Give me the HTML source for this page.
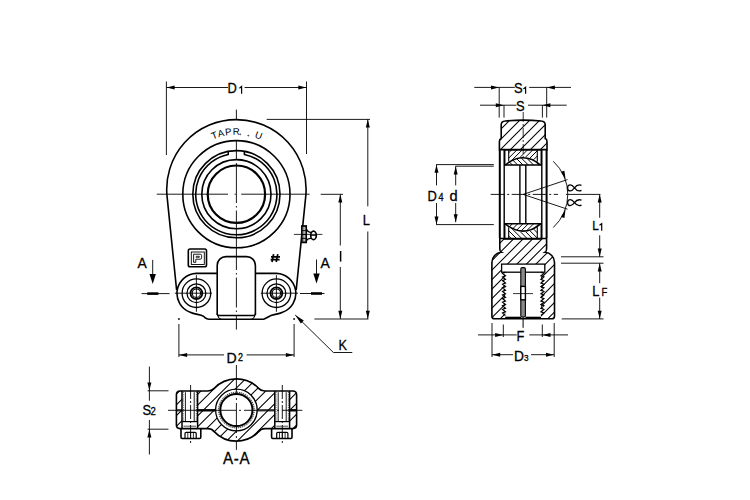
<!DOCTYPE html>
<html><head><meta charset="utf-8"><style>
html,body{margin:0;padding:0;background:#fff;width:750px;height:500px;overflow:hidden}
svg{display:block}
text{font-family:"Liberation Sans",sans-serif;fill:#000;stroke:#000;stroke-width:0.3}
</style></head><body>
<svg width="750" height="500" viewBox="0 0 750 500" stroke="#000" stroke-linecap="butt">
<rect x="0" y="0" width="750" height="500" fill="#fff" stroke="none"/>
<line x1="166.4" y1="81.5" x2="166.4" y2="155" stroke-width="0.9" />
<line x1="306.5" y1="81.5" x2="306.5" y2="154" stroke-width="0.9" />
<line x1="166.4" y1="87.5" x2="228" y2="87.5" stroke-width="0.9" />
<line x1="244.6" y1="87.5" x2="306.5" y2="87.5" stroke-width="0.9" />
<path d="M166.6,87.5 L174.6,85.5 L174.6,89.5 Z" fill="#000" stroke="none"/>
<path d="M306.3,87.5 L298.3,89.5 L298.3,85.5 Z" fill="#000" stroke="none"/>
<text transform="translate(227.5,92.9) scale(0.86,1)" font-size="15" text-anchor="start" >D</text>
<path d="M239.4,88.2 L241.6,86.5 V93.7" stroke-width="1.2" fill="none" />
<line x1="266.7" y1="119.4" x2="370" y2="119.4" stroke-width="0.9" />
<line x1="367.8" y1="119.4" x2="367.8" y2="206.3" stroke-width="0.9" />
<line x1="367.8" y1="231.5" x2="367.8" y2="319" stroke-width="0.9" />
<path d="M367.8,119.6 L369.8,127.6 L365.8,127.6 Z" fill="#000" stroke="none"/>
<path d="M367.8,318.8 L365.8,310.8 L369.8,310.8 Z" fill="#000" stroke="none"/>
<text transform="translate(362.8,224.9) scale(0.86,1)" font-size="15" text-anchor="start" >L</text>
<line x1="320.7" y1="194.3" x2="343" y2="194.3" stroke-width="0.9" />
<line x1="340.3" y1="194.3" x2="340.3" y2="245.5" stroke-width="0.9" />
<line x1="340.3" y1="267" x2="340.3" y2="319" stroke-width="0.9" />
<line x1="340.6" y1="251" x2="340.6" y2="261.6" stroke-width="1.5" />
<path d="M340.3,194.5 L342.3,202.5 L338.3,202.5 Z" fill="#000" stroke="none"/>
<path d="M340.3,318.8 L338.3,310.8 L342.3,310.8 Z" fill="#000" stroke="none"/>
<line x1="314.4" y1="319" x2="368.4" y2="319" stroke-width="0.9" />
<line x1="178.9" y1="324" x2="178.9" y2="357" stroke-width="0.9" />
<line x1="294.1" y1="324" x2="294.1" y2="357" stroke-width="0.9" />
<circle cx="178.9" cy="319" r="0.6" stroke-width="0.8" fill="#000"/>
<circle cx="294.1" cy="319" r="0.6" stroke-width="0.8" fill="#000"/>
<line x1="178.9" y1="354.9" x2="224" y2="354.9" stroke-width="0.9" />
<line x1="246.5" y1="354.9" x2="294.1" y2="354.9" stroke-width="0.9" />
<path d="M179.1,354.9 L187.1,352.9 L187.1,356.9 Z" fill="#000" stroke="none"/>
<path d="M293.9,354.9 L285.9,356.9 L285.9,352.9 Z" fill="#000" stroke="none"/>
<text transform="translate(226.4,362.7) scale(0.94,1)" font-size="15" text-anchor="start" >D</text>
<text transform="translate(238,360.5) scale(0.9,1)" font-size="10" text-anchor="start" >2</text>
<path d="M295.2,315 L303.81,320.51 L300.87,323.5 Z" fill="#000" stroke="none"/>
<line x1="295.2" y1="315" x2="333.4" y2="352.5" stroke-width="0.9" />
<line x1="333.4" y1="352.5" x2="352.3" y2="352.5" stroke-width="0.9" />
<text transform="translate(338.5,349.8) scale(0.86,1)" font-size="14.8" text-anchor="start" >K</text>
<text transform="translate(137.4,267.6) scale(0.94,1)" font-size="14.8" text-anchor="start" >A</text>
<line x1="152.7" y1="259.9" x2="152.7" y2="276" stroke-width="0.9" />
<path d="M152.7,284 L149.5,274 L155.9,274 Z" fill="#000" stroke="none"/>
<line x1="141.6" y1="293.6" x2="169.6" y2="293.6" stroke-width="0.9" />
<line x1="147.2" y1="293.6" x2="158.4" y2="293.6" stroke-width="2.6" />
<text transform="translate(320.6,268) scale(0.94,1)" font-size="14.8" text-anchor="start" >A</text>
<line x1="316.5" y1="259.5" x2="316.5" y2="276" stroke-width="0.9" />
<path d="M316.5,283.5 L313.3,273.5 L319.7,273.5 Z" fill="#000" stroke="none"/>
<line x1="300" y1="293.5" x2="324.5" y2="293.5" stroke-width="0.9" />
<line x1="311" y1="293.5" x2="322" y2="293.5" stroke-width="2.6" />
<line x1="156.8" y1="194.2" x2="228" y2="194.2" stroke-width="0.9" />
<line x1="234.6" y1="194.2" x2="235.8" y2="194.2" stroke-width="0.9" />
<line x1="241.2" y1="194.2" x2="309.6" y2="194.2" stroke-width="0.9" />
<line x1="236.4" y1="109.6" x2="236.4" y2="119" stroke-width="0.9" />
<line x1="236.4" y1="140.2" x2="236.4" y2="160" stroke-width="0.9" />
<line x1="236.4" y1="163" x2="236.4" y2="240" stroke-width="0.9" stroke-dasharray="40 3 1.5 3"/>
<line x1="236.4" y1="240" x2="236.4" y2="329.6" stroke-width="0.9" stroke-dasharray="30 3 1.5 3"/>
<path d="M176.6,290 L167.06,196.37 A69.7 69.7 0 1 1 305.74,196.37 L296.2,290" stroke-width="1.6" fill="none" />
<path d="M216.9,273.4 H196.4 A20 20 0 0 0 190.22,312.22 C195,314.6 200.5,314.2 203.2,316.2 S206,319.2 209,319.2 H263.8 S269.6,316.2 269.6,316.2 C272.3,314.2 277.8,314.6 282.58,312.22 A20 20 0 0 0 276.4,273.4 H255.9" stroke-width="1.6" fill="none" />
<path d="M217.2,315 V265.4 A8.8 8.8 0 0 1 226,256.6 H246.6 A8.8 8.8 0 0 1 255.4,265.4 V315" stroke-width="1.6" fill="none" />
<path d="M217.2,313.6 Q217.2,315.5 219.2,315.5 H253.4 Q255.4,315.5 255.4,313.6" stroke-width="1.3" fill="none" />
<path d="M217.6,315 Q218.4,318.6 221,319 M255,315 Q254.2,318.6 251.6,319" stroke-width="1.1" fill="none" />
<circle cx="236.4" cy="194.2" r="53.6" stroke-width="1.6" fill="none"/>
<circle cx="236.4" cy="194.2" r="43.6" stroke-width="1.6" fill="none"/>
<path d="M228.2,151.38 L228.2,154.44 A40.6 40.6 0 1 0 244.4,154.44 L244.4,151.38" stroke-width="1.6" fill="none" />
<circle cx="236.4" cy="194.2" r="34.6" stroke-width="1.6" fill="none"/>
<circle cx="236.4" cy="194.2" r="28.7" stroke-width="2.2" fill="none"/>
<circle cx="196.4" cy="293.2" r="14.3" stroke-width="1.3" fill="none"/>
<circle cx="196.4" cy="293.2" r="9.4" stroke-width="1.3" fill="none"/>
<circle cx="196.4" cy="293.2" r="5.9" stroke-width="1.8" fill="none"/>
<circle cx="196.4" cy="293.2" r="4.2" stroke-width="1.1" fill="none"/>
<line x1="174.8" y1="293.2" x2="212" y2="293.2" stroke-width="0.9" />
<line x1="196.4" y1="275.2" x2="196.4" y2="311.8" stroke-width="0.9" />
<circle cx="276.4" cy="293.2" r="14.3" stroke-width="1.3" fill="none"/>
<circle cx="276.4" cy="293.2" r="9.4" stroke-width="1.3" fill="none"/>
<circle cx="276.4" cy="293.2" r="5.9" stroke-width="1.8" fill="none"/>
<circle cx="276.4" cy="293.2" r="4.2" stroke-width="1.1" fill="none"/>
<line x1="260.8" y1="293.2" x2="298" y2="293.2" stroke-width="0.9" />
<line x1="276.4" y1="275.2" x2="276.4" y2="311.8" stroke-width="0.9" />
<rect x="188.3" y="249" width="18.2" height="17.8" rx="1.8" stroke-width="1.6" fill="none"/>
<rect x="191.3" y="252" width="13" height="12.5" stroke-width="0.9" fill="none"/>
<path d="M193.6,262.3 V254.2 H200.2 Q201.6,254.2 201.6,255.6 V257.8 Q201.6,259.2 200.2,259.2 H195.8 V262.3 Z" stroke-width="0.9" fill="none" />
<path d="M195.8,256.3 H199.3 V257.3 H195.8" stroke-width="0.8" fill="none" />
<path d="M273.6,254.2 L272,262 M277.8,254.2 L276.2,262 M271,256.9 H280 M270.6,259.6 H279.6" stroke-width="1.7" fill="none" />
<path id="tarc" d="M 176.9,194.2 A 59.5 59.5 0 0 1 295.9,194.2" fill="none" stroke="none"/>
<text font-size="9.6" letter-spacing="0.9" fill="#222" stroke="none" style="stroke:none"><textPath href="#tarc" startOffset="69">TAPR</textPath></text>
<text font-size="9.6" fill="#222" style="stroke:none"><textPath href="#tarc" startOffset="111.5">U</textPath></text>
<circle cx="240.2" cy="134.3" r="0.55" stroke-width="0.5" fill="#889"/>
<circle cx="248.3" cy="135.6" r="0.55" stroke-width="0.5" fill="#889"/>
<rect x="301.9" y="226" width="4.3" height="16.4" stroke-width="1.7" fill="#fff"/>
<line x1="301.9" y1="230.6" x2="306.2" y2="230.6" stroke-width="0.9" />
<line x1="301.9" y1="234.5" x2="306.2" y2="234.5" stroke-width="0.9" />
<line x1="301.9" y1="238.4" x2="306.2" y2="238.4" stroke-width="0.9" />
<line x1="303.9" y1="226" x2="303.9" y2="242.4" stroke-width="0.7" />
<path d="M306.2,228.8 Q307.6,232.3 311,232.4 M306.2,241 Q307.6,238.2 311,238.3" stroke-width="1.3" fill="none" />
<ellipse cx="313.5" cy="235.4" rx="2.8" ry="4.2" stroke-width="1.7" fill="#fff"/>
<line x1="310.8" y1="235.4" x2="316.3" y2="235.4" stroke-width="0.9" />
<line x1="293.9" y1="234.4" x2="322.4" y2="234.4" stroke-width="0.8" />
<line x1="147.6" y1="390.8" x2="168.5" y2="390.8" stroke-width="0.9" />
<line x1="147.6" y1="429.2" x2="168.5" y2="429.2" stroke-width="0.9" />
<line x1="149.4" y1="366.6" x2="149.4" y2="400.7" stroke-width="0.9" />
<line x1="149.4" y1="419.9" x2="149.4" y2="454.5" stroke-width="0.9" />
<path d="M149.4,390.6 L147.4,382.6 L151.4,382.6 Z" fill="#000" stroke="none"/>
<path d="M149.4,429.4 L151.4,437.4 L147.4,437.4 Z" fill="#000" stroke="none"/>
<text transform="translate(142.4,414.8) scale(0.86,1)" font-size="15" text-anchor="start" >S</text>
<text transform="translate(150.6,414.8) scale(0.9,1)" font-size="10.6" text-anchor="start" >2</text>
<text transform="translate(236.6,463.8) scale(0.9,1)" font-size="16.8" text-anchor="middle" letter-spacing="0.7">A-A</text>
<clipPath id="secclip"><path d="M180,391 H207.8 Q211.8,391 213.9,388.6 A30.8 30.8 0 0 1 258.9,388.6 Q261,391 265,391 H292.8 Q296.6,391 296.6,394.8 V425.0 Q296.6,428.6 292.8,428.6 H265 Q261,428.6 258.9,431.4 A30.8 30.8 0 0 1 213.9,431.4 Q211.8,428.6 207.8,428.6 H180 Q176.4,428.6 176.4,425.0 V394.8 Q176.4,391 180,391 Z M257.2,410 A20.8 20.8 0 1 0 215.6,410 A20.8 20.8 0 1 0 257.2,410 Z M182,391 H197.6 V428.6 H182 Z M274.8,391 H289.6 V428.6 H274.8 Z" clip-rule="evenodd"/></clipPath>
<path d="M-332,600 L68,200 M-321.2,600 L78.8,200 M-310.4,600 L89.6,200 M-299.6,600 L100.4,200 M-288.8,600 L111.2,200 M-278,600 L122,200 M-267.2,600 L132.8,200 M-256.4,600 L143.6,200 M-245.6,600 L154.4,200 M-234.8,600 L165.2,200 M-224,600 L176,200 M-213.2,600 L186.8,200 M-202.4,600 L197.6,200 M-191.6,600 L208.4,200 M-180.8,600 L219.2,200 M-170,600 L230,200 M-159.2,600 L240.8,200 M-148.4,600 L251.6,200 M-137.6,600 L262.4,200 M-126.8,600 L273.2,200 M-116,600 L284,200 M-105.2,600 L294.8,200 M-94.4,600 L305.6,200 M-83.6,600 L316.4,200 M-72.8,600 L327.2,200 M-62,600 L338,200 M-51.2,600 L348.8,200 M-40.4,600 L359.6,200 M-29.6,600 L370.4,200 M-18.8,600 L381.2,200 M-8,600 L392,200 M2.8,600 L402.8,200 M13.6,600 L413.6,200 M24.4,600 L424.4,200 M35.2,600 L435.2,200 M46,600 L446,200 M56.8,600 L456.8,200 M67.6,600 L467.6,200 M78.4,600 L478.4,200 M89.2,600 L489.2,200 M100,600 L500,200 M110.8,600 L510.8,200 M121.6,600 L521.6,200 M132.4,600 L532.4,200 M143.2,600 L543.2,200 M154,600 L554,200 M164.8,600 L564.8,200 M175.6,600 L575.6,200 M186.4,600 L586.4,200 M197.2,600 L597.2,200 M208,600 L608,200 M218.8,600 L618.8,200 M229.6,600 L629.6,200 M240.4,600 L640.4,200 M251.2,600 L651.2,200 M262,600 L662,200 M272.8,600 L672.8,200 M283.6,600 L683.6,200 M294.4,600 L694.4,200 M305.2,600 L705.2,200 M316,600 L716,200 M326.8,600 L726.8,200 M337.6,600 L737.6,200 M348.4,600 L748.4,200 M359.2,600 L759.2,200 M370,600 L770,200 M380.8,600 L780.8,200 M391.6,600 L791.6,200 M402.4,600 L802.4,200 M413.2,600 L813.2,200 M424,600 L824,200 M434.8,600 L834.8,200 M445.6,600 L845.6,200 M456.4,600 L856.4,200 M467.2,600 L867.2,200 M478,600 L878,200 M488.8,600 L888.8,200 M499.6,600 L899.6,200 M510.4,600 L910.4,200 M521.2,600 L921.2,200" stroke-width="1.05" clip-path="url(#secclip)" fill="none"/>
<path d="M180,391 H207.8 Q211.8,391 213.9,388.6 A30.8 30.8 0 0 1 258.9,388.6 Q261,391 265,391 H292.8 Q296.6,391 296.6,394.8 V425.0 Q296.6,428.6 292.8,428.6 H265 Q261,428.6 258.9,431.4 A30.8 30.8 0 0 1 213.9,431.4 Q211.8,428.6 207.8,428.6 H180 Q176.4,428.6 176.4,425.0 V394.8 Q176.4,391 180,391 Z" stroke-width="1.6" fill="none" />
<circle cx="236.4" cy="410" r="20.8" stroke-width="1.3" fill="none"/>
<circle cx="236.4" cy="410" r="16.1" stroke-width="2" fill="none"/>
<circle cx="236.4" cy="410" r="17.8" stroke-width="1.0" fill="none" stroke-dasharray="1.2 0.9"/>
<line x1="197.6" y1="410.3" x2="215.6" y2="410.3" stroke-width="2.4" />
<line x1="289.6" y1="410.3" x2="296.6" y2="410.3" stroke-width="2.4" />
<line x1="176.4" y1="409.6" x2="182" y2="409.6" stroke-width="0.7" />
<line x1="176.4" y1="411" x2="182" y2="411" stroke-width="0.7" />
<line x1="257.2" y1="409.6" x2="274.8" y2="409.6" stroke-width="0.7" />
<line x1="257.2" y1="411" x2="274.8" y2="411" stroke-width="0.7" />
<line x1="182" y1="391" x2="182" y2="428.6" stroke-width="1.5" />
<line x1="197.6" y1="391" x2="197.6" y2="428.6" stroke-width="1.5" />
<line x1="183.2" y1="392" x2="183.2" y2="421" stroke-width="1.1" stroke-dasharray="0.8 1.1" stroke="#333"/>
<line x1="196.4" y1="392" x2="196.4" y2="421" stroke-width="1.1" stroke-dasharray="0.8 1.1" stroke="#333"/>
<line x1="185.4" y1="392.2" x2="185.4" y2="421" stroke-width="0.9" />
<line x1="194.2" y1="392.2" x2="194.2" y2="421" stroke-width="0.9" />
<line x1="182" y1="421.6" x2="197.6" y2="421.6" stroke-width="1.2" />
<line x1="183.5" y1="426.2" x2="196.1" y2="426.2" stroke-width="0.7" />
<path d="M181,428.6 V437.3 Q181,438.5 182.2,438.5 H199.6 Q200.8,438.5 200.8,437.3 V428.6" stroke-width="1.6" fill="none" />
<path d="M185,438.5 V433.6 Q185,432.4 186.2,432.4 H195 Q196.2,432.4 196.2,433.6 V438.5" stroke-width="1.2" fill="none" />
<line x1="187.8" y1="433" x2="187.8" y2="438.5" stroke-width="0.8" />
<line x1="190.6" y1="433" x2="190.6" y2="438.5" stroke-width="0.8" />
<line x1="193.4" y1="433" x2="193.4" y2="438.5" stroke-width="0.8" />
<line x1="190.6" y1="385" x2="190.6" y2="445" stroke-width="0.9" stroke-dasharray="14 2 2 2"/>
<line x1="274.8" y1="391" x2="274.8" y2="428.6" stroke-width="1.5" />
<line x1="289.6" y1="391" x2="289.6" y2="428.6" stroke-width="1.5" />
<line x1="276" y1="392" x2="276" y2="421" stroke-width="1.1" stroke-dasharray="0.8 1.1" stroke="#333"/>
<line x1="288.4" y1="392" x2="288.4" y2="421" stroke-width="1.1" stroke-dasharray="0.8 1.1" stroke="#333"/>
<line x1="278.2" y1="392.2" x2="278.2" y2="421" stroke-width="0.9" />
<line x1="286.2" y1="392.2" x2="286.2" y2="421" stroke-width="0.9" />
<line x1="274.8" y1="421.6" x2="289.6" y2="421.6" stroke-width="1.2" />
<line x1="276.3" y1="426.2" x2="288.1" y2="426.2" stroke-width="0.7" />
<path d="M271.6,428.6 V437.3 Q271.6,438.5 272.8,438.5 H290.8 Q292,438.5 292,437.3 V428.6" stroke-width="1.6" fill="none" />
<path d="M276.7,438.5 V433.6 Q276.7,432.4 277.9,432.4 H286.7 Q287.9,432.4 287.9,433.6 V438.5" stroke-width="1.2" fill="none" />
<line x1="279.5" y1="433" x2="279.5" y2="438.5" stroke-width="0.8" />
<line x1="282.3" y1="433" x2="282.3" y2="438.5" stroke-width="0.8" />
<line x1="285.1" y1="433" x2="285.1" y2="438.5" stroke-width="0.8" />
<line x1="282.3" y1="385" x2="282.3" y2="445" stroke-width="0.9" stroke-dasharray="14 2 2 2"/>
<line x1="236.4" y1="365" x2="236.4" y2="449.9" stroke-width="0.9" stroke-dasharray="30 3 2 3"/>
<line x1="168" y1="410.3" x2="302.3" y2="410.3" stroke-width="0.9" stroke-dasharray="30 3 2 3"/>
<line x1="474.3" y1="87.4" x2="514.8" y2="87.4" stroke-width="0.9" />
<line x1="529.2" y1="87.4" x2="571" y2="87.4" stroke-width="0.9" />
<path d="M499,87.4 L491,89.4 L491,85.4 Z" fill="#000" stroke="none"/>
<path d="M546.9,87.4 L554.9,85.4 L554.9,89.4 Z" fill="#000" stroke="none"/>
<line x1="499.2" y1="87.4" x2="499.2" y2="117.6" stroke-width="0.9" />
<line x1="546.7" y1="87.4" x2="546.7" y2="117.6" stroke-width="0.9" />
<text transform="translate(513.9,93) scale(0.86,1)" font-size="15" text-anchor="start" >S</text>
<path d="M523.4,89 L525.6,87.3 V93.8" stroke-width="1.2" fill="none" />
<line x1="480" y1="105.2" x2="516.4" y2="105.2" stroke-width="0.9" />
<line x1="528" y1="105.2" x2="566.7" y2="105.2" stroke-width="0.9" />
<path d="M503.8,105.2 L495.8,107.2 L495.8,103.2 Z" fill="#000" stroke="none"/>
<path d="M542.4,105.2 L550.4,103.2 L550.4,107.2 Z" fill="#000" stroke="none"/>
<line x1="504" y1="105.2" x2="504" y2="117.6" stroke-width="0.9" />
<line x1="542.4" y1="105.2" x2="542.4" y2="117.6" stroke-width="0.9" />
<text transform="translate(515.9,110.6) scale(0.86,1)" font-size="15" text-anchor="start" >S</text>
<line x1="436.2" y1="164.6" x2="493.8" y2="164.6" stroke-width="0.9" />
<line x1="436.2" y1="224.6" x2="493.8" y2="224.6" stroke-width="0.9" />
<line x1="455.4" y1="166.2" x2="493.8" y2="166.2" stroke-width="0.9" />
<line x1="436.5" y1="164.6" x2="436.5" y2="185.4" stroke-width="0.9" />
<line x1="436.5" y1="203" x2="436.5" y2="224.6" stroke-width="0.9" />
<path d="M436.5,164.8 L438.5,172.8 L434.5,172.8 Z" fill="#000" stroke="none"/>
<path d="M436.5,224.4 L434.5,216.4 L438.5,216.4 Z" fill="#000" stroke="none"/>
<line x1="455.7" y1="166.2" x2="455.7" y2="185.4" stroke-width="0.9" />
<line x1="455.7" y1="203" x2="455.7" y2="222.2" stroke-width="0.9" />
<path d="M455.7,166.4 L457.7,174.4 L453.7,174.4 Z" fill="#000" stroke="none"/>
<path d="M455.7,222.2 L453.7,214.2 L457.7,214.2 Z" fill="#000" stroke="none"/>
<text transform="translate(427.6,200.6) scale(0.86,1)" font-size="15" text-anchor="start" >D</text>
<text transform="translate(438.6,200.6) scale(0.9,1)" font-size="10" text-anchor="start" >4</text>
<text transform="translate(449.4,200.6) scale(0.95,1)" font-size="15.4" text-anchor="start" >d</text>
<clipPath id="headclip"><path d="M499.4,149.6 V141.5 Q499.4,139.3 501.2,138.6 V125 Q501.2,121.2 505.2,121 Q523.2,119.3 541.2,121 Q545.2,121.2 545.2,125 V138.6 Q547,139.3 547,141.5 V149.6 Z"/></clipPath>
<path d="M100,300 L350,50 M110,300 L360,50 M120,300 L370,50 M130,300 L380,50 M140,300 L390,50 M150,300 L400,50 M160,300 L410,50 M170,300 L420,50 M180,300 L430,50 M190,300 L440,50 M200,300 L450,50 M210,300 L460,50 M220,300 L470,50 M230,300 L480,50 M240,300 L490,50 M250,300 L500,50 M260,300 L510,50 M270,300 L520,50 M280,300 L530,50 M290,300 L540,50 M300,300 L550,50 M310,300 L560,50 M320,300 L570,50 M330,300 L580,50 M340,300 L590,50 M350,300 L600,50 M360,300 L610,50 M370,300 L620,50 M380,300 L630,50 M390,300 L640,50 M400,300 L650,50 M410,300 L660,50 M420,300 L670,50 M430,300 L680,50 M440,300 L690,50 M450,300 L700,50 M460,300 L710,50 M470,300 L720,50 M480,300 L730,50 M490,300 L740,50 M500,300 L750,50 M510,300 L760,50 M520,300 L770,50 M530,300 L780,50 M540,300 L790,50 M550,300 L800,50 M560,300 L810,50 M570,300 L820,50 M580,300 L830,50 M590,300 L840,50 M600,300 L850,50 M610,300 L860,50 M620,300 L870,50 M630,300 L880,50 M640,300 L890,50 M650,300 L900,50 M660,300 L910,50 M670,300 L920,50 M680,300 L930,50 M690,300 L940,50" stroke-width="1.05" clip-path="url(#headclip)" fill="none"/>
<path d="M499.4,149.6 V141.5 Q499.4,139.3 501.2,138.6 V125 Q501.2,121.2 505.2,121 Q523.2,119.3 541.2,121 Q545.2,121.2 545.2,125 V138.6 Q547,139.3 547,141.5 V149.6 Z" stroke-width="1.6" fill="none" />
<line x1="499.8" y1="149.6" x2="499.8" y2="238" stroke-width="2" />
<line x1="504.2" y1="149.6" x2="504.2" y2="238" stroke-width="1.4" />
<line x1="541.8" y1="149.6" x2="541.8" y2="238" stroke-width="1.4" />
<line x1="546.6" y1="149.6" x2="546.6" y2="238" stroke-width="2" />
<clipPath id="ru0"><path d="M508.7,149.7 H537.3 V162.6 Q523,150.4 508.7,162.6 Z"/></clipPath>
<clipPath id="rl0"><path d="M505.3,165 Q523,150.4 540.7,165 Z"/></clipPath>
<path d="M423.8,190 L473.8,140 M429.1,190 L479.1,140 M434.4,190 L484.4,140 M439.7,190 L489.7,140 M445,190 L495,140 M450.3,190 L500.3,140 M455.6,190 L505.6,140 M460.9,190 L510.9,140 M466.2,190 L516.2,140 M471.5,190 L521.5,140 M476.8,190 L526.8,140 M482.1,190 L532.1,140 M487.4,190 L537.4,140 M492.7,190 L542.7,140 M498,190 L548,140 M503.3,190 L553.3,140 M508.6,190 L558.6,140 M513.9,190 L563.9,140 M519.2,190 L569.2,140 M524.5,190 L574.5,140 M529.8,190 L579.8,140 M535.1,190 L585.1,140 M540.4,190 L590.4,140 M545.7,190 L595.7,140 M551,190 L601,140 M556.3,190 L606.3,140 M561.6,190 L611.6,140 M566.9,190 L616.9,140" stroke-width="1.0" clip-path="url(#ru0)" fill="none"/>
<path d="M423.8,140 L473.8,190 M429.1,140 L479.1,190 M434.4,140 L484.4,190 M439.7,140 L489.7,190 M445,140 L495,190 M450.3,140 L500.3,190 M455.6,140 L505.6,190 M460.9,140 L510.9,190 M466.2,140 L516.2,190 M471.5,140 L521.5,190 M476.8,140 L526.8,190 M482.1,140 L532.1,190 M487.4,140 L537.4,190 M492.7,140 L542.7,190 M498,140 L548,190 M503.3,140 L553.3,190 M508.6,140 L558.6,190 M513.9,140 L563.9,190 M519.2,140 L569.2,190 M524.5,140 L574.5,190 M529.8,140 L579.8,190 M535.1,140 L585.1,190 M540.4,140 L590.4,190 M545.7,140 L595.7,190 M551,140 L601,190 M556.3,140 L606.3,190 M561.6,140 L611.6,190 M566.9,140 L616.9,190" stroke-width="1.0" clip-path="url(#rl0)" fill="none"/>
<path d="M504.7,149.7 H541.3 V165 H504.7 Z" stroke-width="1.5" fill="none" />
<path d="M505.3,165 Q523,150.4 540.7,165" stroke-width="1.5" fill="none" />
<line x1="508.7" y1="149.7" x2="508.7" y2="161.5" stroke-width="1.1" />
<line x1="537.3" y1="149.7" x2="537.3" y2="161.5" stroke-width="1.1" />
<clipPath id="ru1"><path d="M508.7,239.1 H537.3 V226.2 Q523,238.4 508.7,226.2 Z"/></clipPath>
<clipPath id="rl1"><path d="M505.3,223.8 Q523,238.4 540.7,223.8 Z"/></clipPath>
<path d="M423.8,198.8 L473.8,248.8 M429.1,198.8 L479.1,248.8 M434.4,198.8 L484.4,248.8 M439.7,198.8 L489.7,248.8 M445,198.8 L495,248.8 M450.3,198.8 L500.3,248.8 M455.6,198.8 L505.6,248.8 M460.9,198.8 L510.9,248.8 M466.2,198.8 L516.2,248.8 M471.5,198.8 L521.5,248.8 M476.8,198.8 L526.8,248.8 M482.1,198.8 L532.1,248.8 M487.4,198.8 L537.4,248.8 M492.7,198.8 L542.7,248.8 M498,198.8 L548,248.8 M503.3,198.8 L553.3,248.8 M508.6,198.8 L558.6,248.8 M513.9,198.8 L563.9,248.8 M519.2,198.8 L569.2,248.8 M524.5,198.8 L574.5,248.8 M529.8,198.8 L579.8,248.8 M535.1,198.8 L585.1,248.8 M540.4,198.8 L590.4,248.8 M545.7,198.8 L595.7,248.8 M551,198.8 L601,248.8 M556.3,198.8 L606.3,248.8 M561.6,198.8 L611.6,248.8 M566.9,198.8 L616.9,248.8" stroke-width="1.0" clip-path="url(#ru1)" fill="none"/>
<path d="M423.8,248.8 L473.8,198.8 M429.1,248.8 L479.1,198.8 M434.4,248.8 L484.4,198.8 M439.7,248.8 L489.7,198.8 M445,248.8 L495,198.8 M450.3,248.8 L500.3,198.8 M455.6,248.8 L505.6,198.8 M460.9,248.8 L510.9,198.8 M466.2,248.8 L516.2,198.8 M471.5,248.8 L521.5,198.8 M476.8,248.8 L526.8,198.8 M482.1,248.8 L532.1,198.8 M487.4,248.8 L537.4,198.8 M492.7,248.8 L542.7,198.8 M498,248.8 L548,198.8 M503.3,248.8 L553.3,198.8 M508.6,248.8 L558.6,198.8 M513.9,248.8 L563.9,198.8 M519.2,248.8 L569.2,198.8 M524.5,248.8 L574.5,198.8 M529.8,248.8 L579.8,198.8 M535.1,248.8 L585.1,198.8 M540.4,248.8 L590.4,198.8 M545.7,248.8 L595.7,198.8 M551,248.8 L601,198.8 M556.3,248.8 L606.3,198.8 M561.6,248.8 L611.6,198.8 M566.9,248.8 L616.9,198.8" stroke-width="1.0" clip-path="url(#rl1)" fill="none"/>
<path d="M504.7,239.1 H541.3 V223.8 H504.7 Z" stroke-width="1.5" fill="none" />
<path d="M505.3,223.8 Q523,238.4 540.7,223.8" stroke-width="1.5" fill="none" />
<line x1="508.7" y1="239.1" x2="508.7" y2="227.3" stroke-width="1.1" />
<line x1="537.3" y1="239.1" x2="537.3" y2="227.3" stroke-width="1.1" />
<line x1="519.9" y1="165" x2="519.9" y2="223.8" stroke-width="1.4" />
<line x1="525.8" y1="165" x2="525.8" y2="223.8" stroke-width="1.4" />
<line x1="490.7" y1="194.4" x2="558" y2="194.4" stroke-width="0.9" stroke-dasharray="14 2.5 2 2.5"/>
<line x1="566" y1="194.4" x2="600.4" y2="194.4" stroke-width="0.9" />
<line x1="523.2" y1="112" x2="523.2" y2="160" stroke-width="0.8" stroke-dasharray="10 2 2 2"/>
<line x1="523.2" y1="194.4" x2="567.5" y2="179.6" stroke-width="0.9" />
<line x1="523.2" y1="194.4" x2="567.5" y2="209.2" stroke-width="0.9" />
<path d="M553.3,161.3 A45 45 0 0 1 553.3,227.5" stroke-width="0.9" fill="none" />
<path d="M565.6,179.8 L561.02,171.85 L564.43,170.7 Z" fill="#000" stroke="none"/>
<path d="M565.6,209 L564.43,218.1 L561.02,216.95 Z" fill="#000" stroke="none"/>
<path transform="translate(0,-0.1)" d="M581.5,185.5 C578,184.1 576,185.9 574.5,188 C572.8,190.2 571.5,191 570.3,191 C568.8,191 567.6,189.8 567.6,188 C567.6,186.2 568.8,185 570.3,185 C571.5,185 572.8,185.8 574.5,188 C576,190.1 578,191.9 581.5,190.5" stroke-width="1.25" fill="none"/>
<path transform="translate(0,14.7)" d="M581.5,185.5 C578,184.1 576,185.9 574.5,188 C572.8,190.2 571.5,191 570.3,191 C568.8,191 567.6,189.8 567.6,188 C567.6,186.2 568.8,185 570.3,185 C571.5,185 572.8,185.8 574.5,188 C576,190.1 578,191.9 581.5,190.5" stroke-width="1.25" fill="none"/>
<line x1="599.7" y1="194.4" x2="599.7" y2="217.8" stroke-width="0.9" />
<line x1="599.7" y1="235.3" x2="599.7" y2="256.8" stroke-width="0.9" />
<path d="M599.7,194.6 L601.7,202.6 L597.7,202.6 Z" fill="#000" stroke="none"/>
<path d="M599.7,256.6 L597.7,248.6 L601.7,248.6 Z" fill="#000" stroke="none"/>
<text transform="translate(592.2,230.4) scale(0.86,1)" font-size="13.6" text-anchor="start" >L</text>
<path d="M599.5,225.3 L601.7,223.6 V230.8" stroke-width="1.2" fill="none" />
<line x1="561" y1="256.8" x2="603.5" y2="256.8" stroke-width="0.9" />
<line x1="561" y1="263.2" x2="603.5" y2="263.2" stroke-width="0.9" />
<line x1="599.7" y1="263.2" x2="599.7" y2="283.2" stroke-width="0.9" />
<line x1="599.7" y1="297.6" x2="599.7" y2="319" stroke-width="0.9" />
<path d="M599.7,263.4 L601.7,271.4 L597.7,271.4 Z" fill="#000" stroke="none"/>
<path d="M599.7,318.8 L597.7,310.8 L601.7,310.8 Z" fill="#000" stroke="none"/>
<text transform="translate(592.3,296) scale(0.86,1)" font-size="15" text-anchor="start" >L</text>
<text transform="translate(601.4,296) scale(0.9,1)" font-size="10.6" text-anchor="start" >F</text>
<line x1="561.7" y1="318.9" x2="603.5" y2="318.9" stroke-width="0.9" />
<clipPath id="shclip"><path d="M499.8,238.5 V248.4 Q499.8,251.5 501.3,252.3 A10.2 10.2 0 0 0 491.9,262.4 V316.2 Q491.9,318.8 494.5,318.8 H551.9 Q554.5,318.8 554.5,316.2 V262.4 A10.2 10.2 0 0 0 545.1,252.3 Q546.6,251.5 546.6,248.4 V238.5 Z M501.6,264.1 H544.8 V272.2 H541 V316.9 H505.2 V272.2 H501.6 Z" clip-rule="evenodd"/></clipPath>
<path d="M115,400 L365,150 M124.5,400 L374.5,150 M134,400 L384,150 M143.5,400 L393.5,150 M153,400 L403,150 M162.5,400 L412.5,150 M172,400 L422,150 M181.5,400 L431.5,150 M191,400 L441,150 M200.5,400 L450.5,150 M210,400 L460,150 M219.5,400 L469.5,150 M229,400 L479,150 M238.5,400 L488.5,150 M248,400 L498,150 M257.5,400 L507.5,150 M267,400 L517,150 M276.5,400 L526.5,150 M286,400 L536,150 M295.5,400 L545.5,150 M305,400 L555,150 M314.5,400 L564.5,150 M324,400 L574,150 M333.5,400 L583.5,150 M343,400 L593,150 M352.5,400 L602.5,150 M362,400 L612,150 M371.5,400 L621.5,150 M381,400 L631,150 M390.5,400 L640.5,150 M400,400 L650,150 M409.5,400 L659.5,150 M419,400 L669,150 M428.5,400 L678.5,150 M438,400 L688,150 M447.5,400 L697.5,150 M457,400 L707,150 M466.5,400 L716.5,150 M476,400 L726,150 M485.5,400 L735.5,150 M495,400 L745,150 M504.5,400 L754.5,150 M514,400 L764,150 M523.5,400 L773.5,150 M533,400 L783,150 M542.5,400 L792.5,150 M552,400 L802,150 M561.5,400 L811.5,150 M571,400 L821,150 M580.5,400 L830.5,150 M590,400 L840,150 M599.5,400 L849.5,150 M609,400 L859,150 M618.5,400 L868.5,150 M628,400 L878,150 M637.5,400 L887.5,150 M647,400 L897,150 M656.5,400 L906.5,150 M666,400 L916,150 M675.5,400 L925.5,150" stroke-width="1.05" clip-path="url(#shclip)" fill="none"/>
<path d="M499.8,238.5 V248.4 Q499.8,251.5 501.3,252.3 A10.2 10.2 0 0 0 491.9,262.4 V316.2 Q491.9,318.8 494.5,318.8 H551.9 Q554.5,318.8 554.5,316.2 V262.4 A10.2 10.2 0 0 0 545.1,252.3 Q546.6,251.5 546.6,248.4 V238.5 Z" stroke-width="1.6" fill="none" />
<rect x="501.6" y="264.1" width="43.2" height="8.1" stroke-width="1.3" fill="none"/>
<path d="M505.4,272.2 L502.6,273.4 L505.4,275.8 L502.6,277 L505.4,279.4 L502.6,280.6 L505.4,283 L502.6,284.2 L505.4,286.6 L502.6,287.8 L505.4,290.2 L502.6,291.4 L505.4,293.8 L502.6,295 L505.4,297.4 L502.6,298.6 L505.4,301 L502.6,302.2 L505.4,304.6 L502.6,305.8 L505.4,308.2 L502.6,309.4 L505.4,311.8 L502.6,313 L505.4,315.4" stroke-width="1.3" fill="none"/>
<path d="M541,272.2 L543.8,273.4 L541,275.8 L543.8,277 L541,279.4 L543.8,280.6 L541,283 L543.8,284.2 L541,286.6 L543.8,287.8 L541,290.2 L543.8,291.4 L541,293.8 L543.8,295 L541,297.4 L543.8,298.6 L541,301 L543.8,302.2 L541,304.6 L543.8,305.8 L541,308.2 L543.8,309.4 L541,311.8 L543.8,313 L541,315.4" stroke-width="1.3" fill="none"/>
<line x1="505.2" y1="317.4" x2="520.8" y2="317.4" stroke-width="1.4" />
<line x1="525.4" y1="317.4" x2="541" y2="317.4" stroke-width="1.4" />
<rect x="520.8" y="267.6" width="4.6" height="49.4" rx="1.5" stroke-width="1.1" fill="#8a8a8a"/>
<rect x="520.8" y="286.4" width="4.6" height="13.4" stroke-width="1.4" fill="#fff"/>
<line x1="523.1" y1="317" x2="523.1" y2="327.8" stroke-width="1" />
<line x1="513" y1="293.6" x2="533" y2="293.6" stroke-width="0.8" />
<line x1="478" y1="334.9" x2="516.7" y2="334.9" stroke-width="0.9" />
<line x1="529.3" y1="334.9" x2="568" y2="334.9" stroke-width="0.9" />
<path d="M503.1,334.9 L495.1,336.9 L495.1,332.9 Z" fill="#000" stroke="none"/>
<path d="M542.5,334.9 L550.5,332.9 L550.5,336.9 Z" fill="#000" stroke="none"/>
<line x1="503.3" y1="324.5" x2="503.3" y2="337" stroke-width="0.9" />
<line x1="542.3" y1="324.5" x2="542.3" y2="337" stroke-width="0.9" />
<text transform="translate(516.6,340.7) scale(0.86,1)" font-size="15" text-anchor="start" >F</text>
<line x1="492" y1="323" x2="492" y2="357" stroke-width="0.9" />
<line x1="554.2" y1="323" x2="554.2" y2="357" stroke-width="0.9" />
<line x1="492" y1="354.7" x2="513" y2="354.7" stroke-width="0.9" />
<line x1="531" y1="354.7" x2="554.2" y2="354.7" stroke-width="0.9" />
<path d="M492.2,354.7 L500.2,352.7 L500.2,356.7 Z" fill="#000" stroke="none"/>
<path d="M554,354.7 L546,356.7 L546,352.7 Z" fill="#000" stroke="none"/>
<text transform="translate(514,360.6) scale(0.92,1)" font-size="15" text-anchor="start" >D</text>
<text transform="translate(524,360.6) scale(0.86,1)" font-size="9.6" text-anchor="start" >3</text>
</svg></body></html>
